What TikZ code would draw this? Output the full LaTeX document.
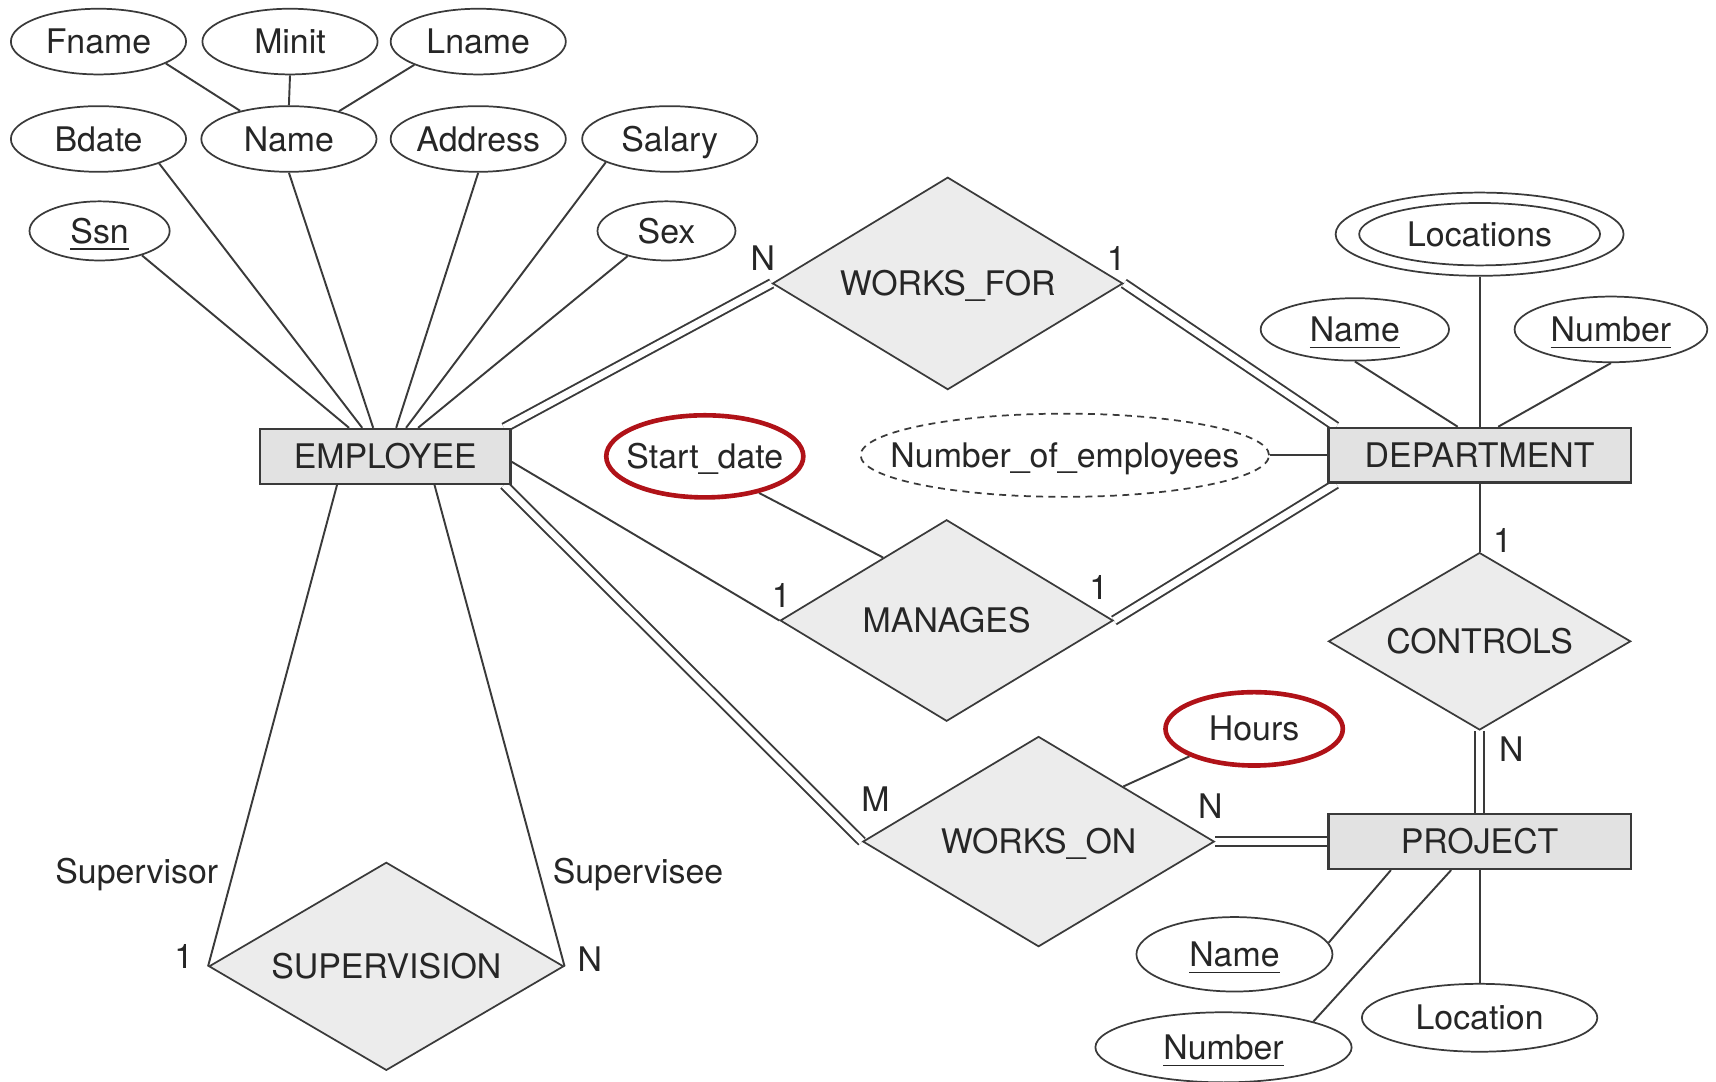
\documentclass[tikz,border=0pt]{standalone}
\usepackage{fontspec}
\setmainfont{TeX Gyre Heros}
\usepackage{tikz}
\usetikzlibrary{shapes.geometric,positioning,calc,backgrounds}
\definecolor{ergray}{RGB}{58,58,58}
\definecolor{entfill}{RGB}{226,226,226}
\definecolor{relfill}{RGB}{236,236,236}
\definecolor{mred}{RGB}{176,18,24}

\begin{document}
\begin{tikzpicture}[
    x=0.01cm, y=-0.01cm,
    font=\fontsize{8.8}{10}\selectfont,
    every node/.style={text=black!85, text height=6.3pt, text depth=0pt},
    entity/.style={draw=ergray, fill=entfill, line width=0.6pt, minimum width=2.76cm,
                   minimum height=0.5cm, inner sep=0pt},
    attr/.style={ellipse, draw=ergray, fill=white, line width=0.45pt, minimum width=1.6cm,
                 minimum height=0.6cm, inner xsep=-0.6cm, inner ysep=0pt},
    hl/.style={attr, draw=mred, line width=1.2pt},
    rel/.style={diamond, aspect=2, draw=ergray, fill=relfill, line width=0.45pt, inner sep=0pt},
    card/.style={inner sep=1pt},
    ln/.style={draw=ergray, line width=0.5pt},
    tot/.style={ln, double=white, double distance=1.8pt}
]
\useasboundingbox (0,0) rectangle (1568,988);

\node[entity, minimum width=2.29cm] (emp) at (352,417) {EMPLOYEE};
\node[entity] (dept) at (1352,416) {DEPARTMENT};
\node[entity] (proj) at (1352,769) {PROJECT};

\node[rel, minimum width=3.2cm, minimum height=1.94cm] (wf) at (866,259) {WORKS\_FOR};
\node[rel, minimum width=3.04cm, minimum height=1.84cm] (man) at (865,567) {MANAGES};
\node[rel, minimum width=2.76cm, minimum height=1.62cm] (ctl) at (1352,586) {CONTROLS};
\node[rel, minimum width=3.21cm, minimum height=1.92cm] (won) at (949,769) {WORKS\_ON};
\node[rel, minimum width=3.24cm, minimum height=1.9cm] (sup) at (353,883) {SUPERVISION};

\node[attr] (fname) at (90,38) {Fname};
\node[attr] (minit) at (265,38) {Minit};
\node[attr] (lname) at (437,38) {Lname};
\node[attr] (bdate) at (90,127) {Bdate};
\node[attr] (ename) at (264,127) {Name};
\node[attr] (addr) at (437,127) {Address};
\node[attr] (sal) at (612,127) {Salary};
\node[attr, minimum width=1.28cm, minimum height=0.54cm] (ssn) at (91,211) {\underline{Ssn}};
\node[attr, minimum width=1.26cm, minimum height=0.54cm] (sex) at (609,211) {Sex};

\node[attr, minimum width=2.63cm, minimum height=0.76cm] (locs) at (1352,214) {};
\node[attr, minimum width=2.2cm, minimum height=0.57cm] (locsin) at (locs) {Locations};
\node[attr, minimum width=1.72cm, minimum height=0.57cm] (dname) at (1238,301) {\underline{Name}};
\node[attr, minimum width=1.76cm, minimum height=0.6cm] (dnum) at (1472,301) {\underline{Number}};
\node[attr, dash pattern=on 1.8pt off 1.4pt, minimum width=3.73cm, minimum height=0.76cm]
    (nemp) at (973,416) {Number\_of\_employees};

\node[hl, minimum width=1.8cm, minimum height=0.75cm] (sdate) at (644,417) {Start\_date};
\node[hl, minimum width=1.62cm, minimum height=0.67cm] (hours) at (1146,666) {Hours};

\node[attr, minimum width=1.79cm, minimum height=0.68cm] (pname) at (1128,872) {\underline{Name}};
\node[attr, minimum width=2.34cm, minimum height=0.64cm] (pnum) at (1118,957) {\underline{Number}};
\node[attr, minimum width=2.15cm, minimum height=0.62cm] (ploc) at (1352,930) {Location};

\node[card] (cwfe) at (697,236) {N};
\node[card] (cwfd) at (1020,236) {1};
\node[card] (cmane) at (714,544) {1};
\node[card] (cmand) at (1004,537) {1};
\node[card] (cctld) at (1373,494) {1};
\node[card] (cctlp) at (1381,685) {N};
\node[card] (cwone) at (800,730) {M};
\node[card] (cwonp) at (1106,737) {N};
\node[card] (csupl) at (168,874) {1};
\node[card] (csupr) at (539,877) {N};
\node (rsor) at (125,796) {Supervisor};
\node (rsee) at (583,796) {Supervisee};

\begin{scope}[on background layer]
\draw[ln] (fname.-18) -- (ename.150);
\draw[ln] (minit.south) -- (ename.north);
\draw[ln] (lname.-160) -- (ename.29);
\draw[ln] (ssn.-30) -- ([xshift=-0.33cm]emp.north);
\draw[ln] (bdate.-22) -- ([xshift=-0.21cm]emp.north);
\draw[ln] (ename.south) -- ([xshift=-0.11cm]emp.north);
\draw[ln] (addr.south) -- ([xshift=0.10cm]emp.north);
\draw[ln] (sal.-160) -- ([xshift=0.19cm]emp.north);
\draw[ln] (sex.-147) -- ([xshift=0.30cm]emp.north);

\draw[tot] ([xshift=-0.07cm]emp.north east) -- (wf.west);
\draw[tot] (wf.east) -- ([xshift=0.08cm]dept.north west);
\draw[ln] ([yshift=-0.05cm]emp.east) -- (man.west);
\draw[tot] (man.east) -- ([xshift=0.08cm]dept.south west);
\draw[ln] (sdate.-34) -- ($(man.west)!0.62!(man.north)$);
\draw[ln] (nemp) -- (dept.west);

\draw[ln] (locs.south) -- (dept.north);
\draw[ln] (dname.south) -- ([xshift=-0.20cm]dept.north);
\draw[ln] (dnum.south) -- ([xshift=0.17cm]dept.north);
\draw[ln] (dept.south) -- (ctl.north);
\draw[tot] (ctl.south) -- (proj.north);

\draw[tot] ([xshift=-0.07cm]emp.south east) -- (won.west);
\draw[tot] (won.east) -- (proj.west);
\draw[ln] (hours.-157) -- ($(won.north)!0.48!(won.east)$);
\draw[ln] (pname.7) -- ([xshift=-0.81cm]proj.south);
\draw[ln] (pnum.16) -- ([xshift=-0.26cm]proj.south);
\draw[ln] (ploc.north) -- (proj.south);

\draw[ln] ([xshift=-0.44cm]emp.south) -- (sup.west);
\draw[ln] ([xshift=0.45cm]emp.south) -- (sup.east);
\end{scope}
\end{tikzpicture}
\end{document}
